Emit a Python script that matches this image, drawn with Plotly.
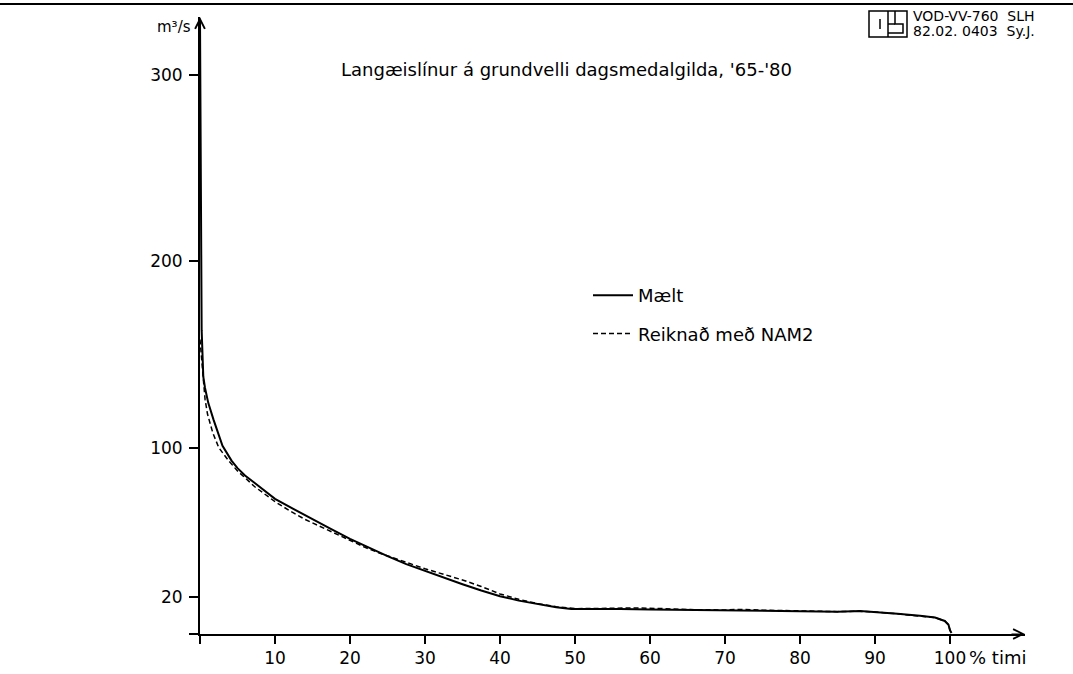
import plotly.graph_objects as go

# ---- data ----
pct_measured = [0, 0.03, 0.08, 0.15, 0.22, 0.44, 0.67, 1.1, 1.8, 3.0, 4.2, 5.0, 6.0, 7.3,
                10, 12.5, 15, 17.5, 20, 22.5, 25, 27.5, 30, 32.5, 35, 37.5, 40,
                42.5, 45, 47.5, 49.5, 53, 56, 60, 65, 70, 75, 80, 85, 88, 90, 93, 96,
                98, 99.3, 99.8, 100, 100.2]
q_measured = [330, 300, 250, 200, 163, 138, 132, 124, 115, 101, 93, 89, 85, 81,
              72.5, 67, 61.5, 56.2, 51, 46.3, 41.8, 37.5, 33.8, 30.2, 26.7, 23.3, 20.3,
              17.9, 15.9, 14.3, 13.4, 13.6, 13.4, 13.2, 13.0, 12.9, 12.6, 12.4, 12.0, 12.3, 11.8, 10.8, 9.8,
              8.8, 7.0, 5.0, 2.0, 0.5]

pct_calc = [0, 0.2, 0.4, 0.67, 1.0, 1.7, 2.5, 3.8, 5.0, 7.3, 10, 12, 14, 17.5, 20, 22, 24, 26,
            28.4, 30, 32.5, 35, 37.5, 40, 42.5, 45, 47.5, 50, 55, 58, 62, 65,
            70, 72, 75, 80, 85, 88, 90, 93, 96, 98, 99.3, 99.8, 100]
q_calc = [158, 148, 138, 126, 118, 108, 100, 93, 87.5, 79, 71, 66, 61.5, 55, 50.3, 46.5, 43.3, 40.5,
          37, 35, 32, 29, 25.5, 21.5, 18.6, 16.3, 14.6, 13.6, 13.8, 14.0, 13.6, 13.1,
          12.9, 13.2, 12.8, 12.4, 12.0, 12.2, 11.8, 10.8, 9.8, 8.8, 7.0, 5.0, 2.0]

x_ticks = [0, 10, 20, 30, 40, 50, 60, 70, 80, 90, 100]
x_ticktext = ["", "10", "20", "30", "40", "50", "60", "70", "80", "90", "100"]
y_ticks = [0, 20, 100, 200, 300]
y_ticktext = ["", "20", "100", "200", "300"]

title_text = "Langæislínur á grundvelli dagsmedalgilda, '65-'80"
name_measured = "Mælt"
name_calc = "Reiknað með NAM2"

FONT = "DejaVu Sans"
W, H = 1073, 674
ML, MR, MT, MB = 200, 48, 17, 40
PW, PH = W - ML - MR, H - MT - MB


def px(x):
    return (x - ML) / PW


def py(y):
    return (H - MB - y) / PH


fig = go.Figure()
fig.add_trace(go.Scatter(x=pct_measured, y=q_measured, mode="lines", name=name_measured,
                         line=dict(color="black", width=2), legendgroup="a"))
fig.add_trace(go.Scatter(x=pct_calc, y=q_calc, mode="lines", name=name_calc,
                         line=dict(color="black", width=1.5, dash="5px,3px"), legendgroup="b"))

axis_common = dict(showgrid=False, zeroline=False, showline=True, linecolor="black",
                   linewidth=2, ticks="outside", tickcolor="black", tickwidth=1.5,
                   tickfont=dict(family=FONT, size=17, color="black"), automargin=False)

fig.update_xaxes(range=[0, 110], tickvals=x_ticks, ticktext=x_ticktext, ticklen=8, **axis_common)
fig.update_yaxes(range=[0, 331], tickvals=y_ticks, ticktext=y_ticktext, ticklen=9,
                 ticklabelstandoff=3, **axis_common)

annotations = [
    dict(x=110, y=0, xref="x", yref="y", ax=108, ay=0, axref="x", ayref="y", text="",
         showarrow=True, arrowhead=5, arrowsize=1.6, arrowwidth=1.2, arrowcolor="black"),
    dict(x=0, y=331, xref="x", yref="y", ax=0, ay=322, axref="x", ayref="y", text="",
         showarrow=True, arrowhead=5, arrowsize=1.6, arrowwidth=1.2, arrowcolor="black"),
    dict(x=px(566), y=py(70), xref="paper", yref="paper", text=title_text, showarrow=False,
         font=dict(family=FONT, size=18, color="black"), xanchor="center", yanchor="middle"),
    dict(x=px(193), y=py(27), xref="paper", yref="paper", text="m³/s", showarrow=False,
         font=dict(family=FONT, size=15, color="black"), xanchor="right", yanchor="middle"),
    dict(x=px(967), y=py(657), xref="paper", yref="paper", text="% timi", showarrow=False,
         font=dict(family=FONT, size=18, color="black"), xanchor="left", yanchor="middle"),
    dict(x=px(911), y=py(16), xref="paper", yref="paper", text="VOD-VV-760  SLH", showarrow=False,
         font=dict(family=FONT, size=14, color="black"), xanchor="left", yanchor="middle"),
    dict(x=px(911), y=py(31), xref="paper", yref="paper", text="82.02. 0403  Sy.J.", showarrow=False,
         font=dict(family=FONT, size=14, color="black"), xanchor="left", yanchor="middle"),
]

shapes = [
    # scan border at top
    dict(type="line", xref="paper", yref="paper", x0=px(0), x1=px(W), y0=py(4), y1=py(4),
         line=dict(color="black", width=2)),
    # small axis extension left of origin
    dict(type="line", xref="paper", yref="paper", x0=px(191), x1=px(200), y0=py(634), y1=py(634),
         line=dict(color="black", width=2)),
    # logo
    dict(type="rect", xref="paper", yref="paper", x0=px(869), x1=px(907), y0=py(11), y1=py(37),
         line=dict(color="black", width=1.5)),
    dict(type="line", xref="paper", yref="paper", x0=px(888), x1=px(888), y0=py(11), y1=py(37),
         line=dict(color="black", width=1.5)),
    dict(type="line", xref="paper", yref="paper", x0=px(880), x1=px(880), y0=py(19), y1=py(29),
         line=dict(color="black", width=1.5)),
    dict(type="path", xref="paper", yref="paper",
         path=f"M {px(895)},{py(11)} L {px(895)},{py(24)} L {px(903)},{py(24)} L {px(903)},{py(33)} L {px(888)},{py(33)}",
         line=dict(color="black", width=1.5)),
    dict(type="line", xref="paper", yref="paper", x0=px(888), x1=px(895), y0=py(24), y1=py(24),
         line=dict(color="black", width=1.5)),
]

fig.update_layout(
    width=W, height=H,
    margin=dict(l=ML, r=MR, t=MT, b=MB, autoexpand=False),
    paper_bgcolor="white", plot_bgcolor="white",
    font=dict(family=FONT, color="black"),
    showlegend=True,
    legend=dict(x=px(588), y=py(277), xanchor="left", yanchor="top",
                bgcolor="rgba(0,0,0,0)", font=dict(family=FONT, size=18, color="black"),
                traceorder="grouped", tracegroupgap=12, itemwidth=40),
    annotations=annotations,
    shapes=shapes,
)

fig.write_html("out.html", config={"displayModeBar": False},
               post_script="document.body.style.margin='0';document.body.style.overflow='hidden';")
